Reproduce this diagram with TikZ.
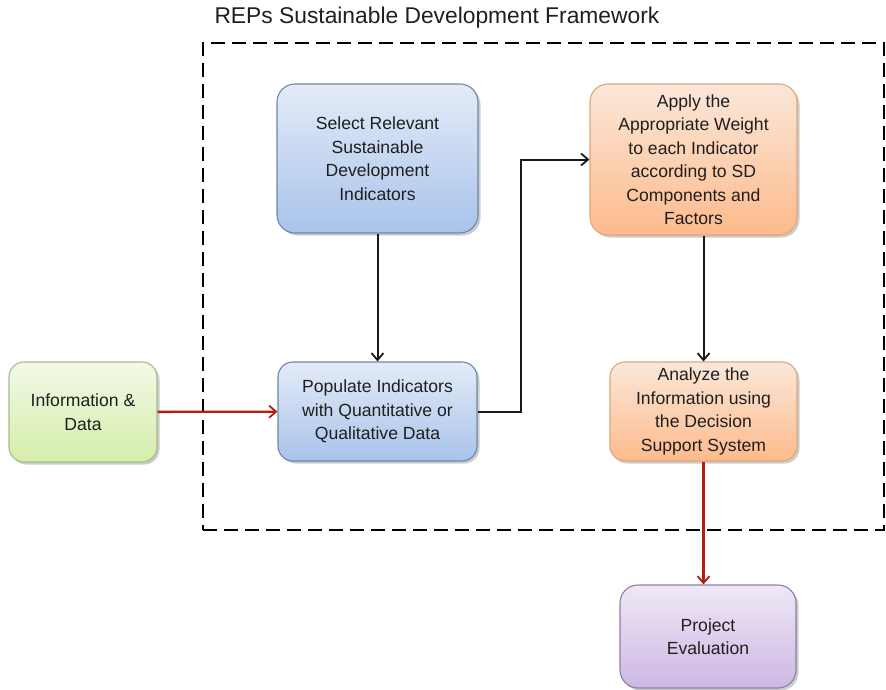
\documentclass[tikz,border=0pt]{standalone}
\usepackage{fontspec}
\setmainfont{Liberation Sans}
\usetikzlibrary{arrows.meta,shadows}
\definecolor{blueTop}{HTML}{E4EBF8}
\definecolor{blueBot}{HTML}{A8C3EA}
\definecolor{blueLine}{HTML}{6F86A8}
\definecolor{orTop}{HTML}{FAE7DA}
\definecolor{orBot}{HTML}{FDBB8B}
\definecolor{orLine}{HTML}{E0A57A}
\definecolor{grTop}{HTML}{F2F9E8}
\definecolor{grBot}{HTML}{D5EEA9}
\definecolor{grLine}{HTML}{A9B98A}
\definecolor{puTop}{HTML}{EFE7F6}
\definecolor{puBot}{HTML}{CCB8E3}
\definecolor{puLine}{HTML}{8E7FA3}
\definecolor{redArrow}{HTML}{B21E14}
\tikzset{
  boxbase/.style={rectangle, rounded corners=18pt, line width=1.1pt, align=center,
    font=\fontsize{17.6}{23.5}\selectfont, text=black!88,
    drop shadow={shadow xshift=2.5pt, shadow yshift=-2.5pt, fill=black!40, opacity=0.5}},
  bluebox/.style={boxbase, draw=blueLine, top color=blueTop, bottom color=blueBot},
  orbox/.style={boxbase, draw=orLine, top color=orTop, bottom color=orBot},
  grbox/.style={boxbase, draw=grLine, top color=grTop, bottom color=grBot},
  pubox/.style={boxbase, draw=puLine, top color=puTop, bottom color=puBot},
  blkarrow/.style={line width=2pt, draw=black!90, -{Straight Barb[length=7pt,width=12pt,line width=1.8pt]}},
  redarrow/.style={line width=2.3pt, draw=redArrow, -{Straight Barb[length=7pt,width=12pt,line width=1.8pt]}},
}
\begin{document}
\begin{tikzpicture}[x=1pt,y=-1pt]
\useasboundingbox (0,0) rectangle (886,690);
\node[anchor=west, font=\fontsize{22.8}{27}\selectfont, text=black!88] (title) at (211,18) {REPs Sustainable Development Framework};
\node[draw, dashed, dash pattern=on 14pt off 7pt, line width=2.3pt, minimum width=681pt, minimum height=487pt, inner sep=0pt] (frame) at (543.5,286.5) {};
\node[bluebox, minimum width=201pt, minimum height=149pt] (select) at (377.5,158.5) {Select Relevant\\Sustainable\\Development\\Indicators};
\node[orbox, minimum width=207pt, minimum height=151pt] (apply) at (693.5,159.5) {Apply the\\Appropriate Weight\\to each Indicator\\according to SD\\Components and\\Factors};
\node[grbox, rounded corners=15pt, minimum width=148pt, minimum height=100pt] (info) at (83,412) {Information \&\\Data};
\node[bluebox, rounded corners=15pt, minimum width=199pt, minimum height=99pt] (populate) at (377.5,411.5) {Populate Indicators\\with Quantitative or\\Qualitative Data};
\node[orbox, rounded corners=15pt, minimum width=187pt, minimum height=99pt] (analyze) at (703.5,411.5) {Analyze the\\Information using\\the Decision\\Support System};
\node[pubox, minimum width=176pt, minimum height=103pt] (project) at (708,636.5) {Project\\Evaluation};
\coordinate (elbow) at (521,300);
\draw[blkarrow] (select) -- (populate);
\draw[blkarrow] (populate.east) -| (elbow) |- (apply.west);
\draw[blkarrow] (apply.south -| analyze.north) -- (analyze.north);
\draw[redarrow] (info) -- (populate);
\draw[redarrow] (analyze.south) -- (analyze.south |- project.north);
\end{tikzpicture}
\end{document}
